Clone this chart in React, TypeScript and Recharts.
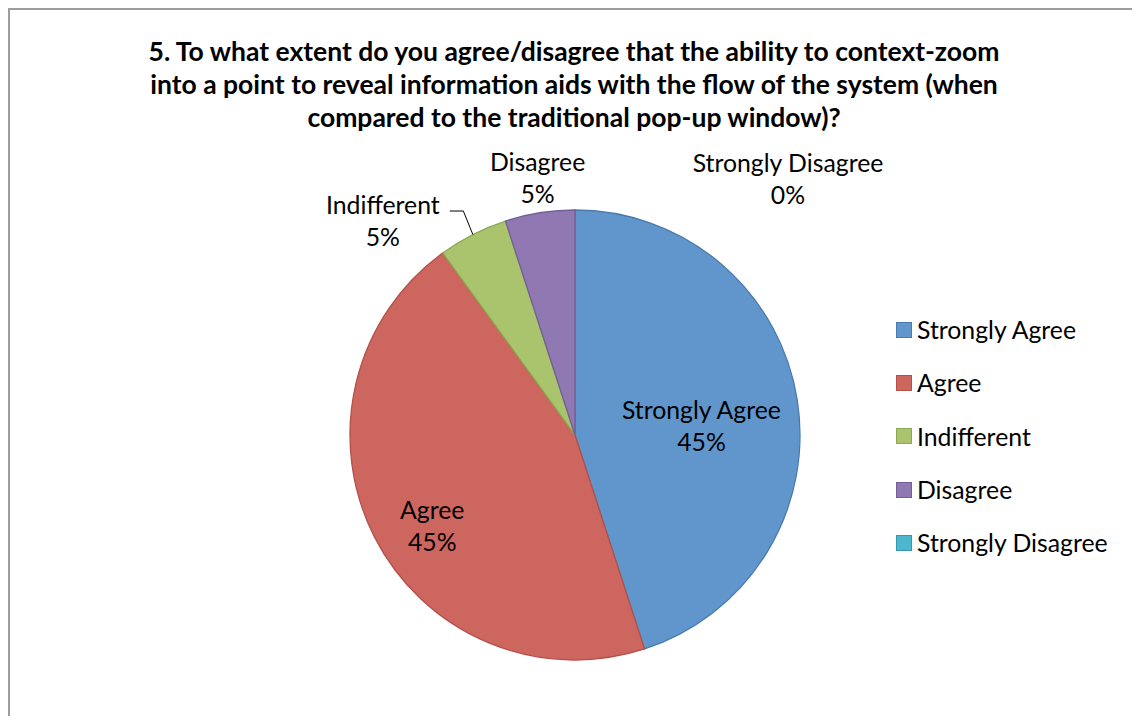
import React from 'react';
import { PieChart, Pie, Cell, Legend } from 'recharts';

const categories = ['Strongly Agree', 'Agree', 'Indifferent', 'Disagree', 'Strongly Disagree'];
const shares = [45, 45, 5, 5, 0];
const percentLabels = ['45%', '45%', '5%', '5%', '0%'];
const titleLines = [
  '5. To what extent do you agree/disagree that the ability to context-zoom',
  'into a point to reveal information aids with the flow of the system (when',
  'compared to the traditional pop-up window)?',
];
const fills = ['#6096CB', '#CE6660', '#A9C46C', '#9079B3', '#4CB6CC'];
const strokes = ['#4A7BAE', '#B44F49', '#8CA853', '#735E98', '#3797B0'];

const data = categories.map((name, i) => ({ name, value: shares[i] }));

const FONT = 'Lato, "Open Sans", sans-serif';
const LABEL_SIZE = 24.8;
const RAD = Math.PI / 180;

// radial factor of outer radius + small nudges (relative to the computed polar point)
const placement = [
  { r: 0.56, dx: 2, dy: 11, leader: false },
  { r: 0.747, dx: 7, dy: 15, leader: false },
  { r: 1.0, dx: -90, dy: -13, leader: true },
  { r: 1.147, dx: 3, dy: -2, leader: false },
  { r: 1.138, dx: 213, dy: 0, leader: false },
];

const renderLabel = (props: any) => {
  const { cx, cy, midAngle, outerRadius, index } = props;
  const p = placement[index];
  const r = outerRadius * p.r;
  const px = cx + r * Math.cos(-midAngle * RAD);
  const py = cy + r * Math.sin(-midAngle * RAD);
  const x = px + p.dx;
  const y = py + p.dy;
  const capHalf = LABEL_SIZE * 0.36;
  return (
    <g key={`lbl-${index}`}>
      {p.leader && (
        <polyline
          points={`${px},${py} ${px - 9.5},${py - 23.5} ${px - 23},${py - 23.5}`}
          fill="none"
          stroke="#000"
          strokeWidth={1}
        />
      )}
      <text x={x} y={y - 16 + capHalf} textAnchor="middle" fontFamily={FONT} fontSize={LABEL_SIZE} fill="#000">
        {categories[index]}
      </text>
      <text x={x} y={y + 16 + capHalf} textAnchor="middle" fontFamily={FONT} fontSize={LABEL_SIZE} fill="#000">
        {percentLabels[index]}
      </text>
    </g>
  );
};

const renderLegend = () => (
  <div style={{ fontFamily: FONT, fontSize: LABEL_SIZE, color: '#000' }}>
    {categories.map((c, i) => (
      <div key={c} style={{ height: 53.3, display: 'flex', alignItems: 'center' }}>
        <span
          style={{
            display: 'inline-block',
            width: 14,
            height: 14,
            background: fills[i],
            border: `1px solid ${strokes[i]}`,
            marginRight: 5,
          }}
        />
        <span>{c}</span>
      </div>
    ))}
  </div>
);

export default function App() {
  return (
    <div style={{ position: 'relative', width: 1132, height: 708 }}>
      <PieChart width={1132} height={708} margin={{ top: 0, right: 0, bottom: 0, left: 0 }}>
        <Pie
          data={data}
          dataKey="value"
          nameKey="name"
          cx={567}
          cy={427}
          outerRadius={225}
          startAngle={90}
          endAngle={-270}
          label={renderLabel}
          labelLine={false}
          isAnimationActive={false}
          strokeWidth={1.3}
        >
          {data.map((d, i) => (
            <Cell key={d.name} fill={fills[i]} stroke={strokes[i]} />
          ))}
        </Pie>
        <Legend
          layout="vertical"
          align="right"
          verticalAlign="top"
          content={renderLegend}
          wrapperStyle={{ position: 'absolute', left: 888, top: 295, width: 240 }}
        />
      </PieChart>
      <div
        style={{
          position: 'absolute',
          left: 0,
          top: 27,
          width: 1132,
          textAlign: 'center',
          fontFamily: FONT,
          fontWeight: 700,
          fontSize: 26.5,
          lineHeight: '33px',
          color: '#000',
          paddingLeft: 0,
          whiteSpace: 'nowrap',
        }}
      >
        {titleLines.map((l) => (
          <div key={l}>{l}</div>
        ))}
      </div>
      <div
        style={{
          position: 'absolute',
          left: 0,
          top: 0,
          width: 1132,
          height: 708,
          boxSizing: 'border-box',
          borderTop: '2px solid #9d9d9d',
          borderLeft: '2px solid #9d9d9d',
          pointerEvents: 'none',
        }}
      />
    </div>
  );
}
